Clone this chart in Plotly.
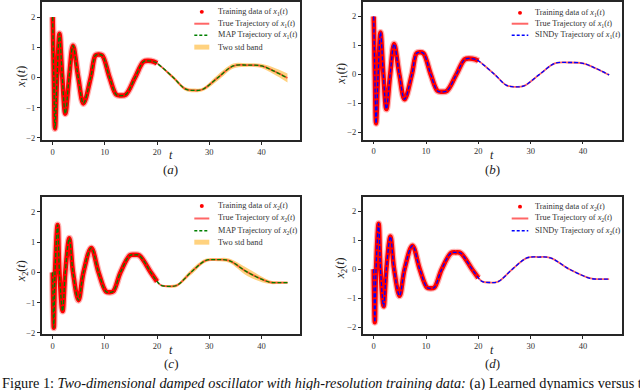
import plotly.graph_objects as go

# values (key points; plotly's spline joins them)
t_x1 = [0.0, 0.22, 0.45, 0.85, 1.3, 1.85, 2.42, 3.15, 3.9, 4.9, 5.9, 7.3, 8.2, 8.8, 9.5,
        10.9, 12.2, 13.0, 14.0, 15.8, 17.4, 18.3, 19.4, 20.0, 23.1, 25.4, 27.0, 28.7,
        31.7, 34.6, 37.2, 40.0, 42.3, 45.0]
x1_true = [2.0, 0.0, -1.69, 0.0, 1.45, 0.0, -1.2, 0.0, 1.05, 0.0, -0.86, 0.0, 0.73, 0.76, 0.73,
           0.0, -0.57, -0.6, -0.57, 0.0, 0.52, 0.55, 0.52, 0.47, 0.0, -0.38, -0.43, -0.40,
           0.0, 0.38, 0.41, 0.38, 0.22, -0.02]

t_x2 = [0.0, 0.22, 0.45, 0.95, 1.3, 1.9, 2.42, 3.2, 3.9, 4.95, 5.9, 7.4, 8.8, 10.2, 10.9,
        11.6, 13.0, 14.8, 15.7, 16.6, 18.8, 20.0, 20.8, 22.2, 23.8, 26.5, 29.3, 31.5, 33.8,
        37.4, 41.5, 43.5, 45.0]
x2_true = [0.0, -1.83, 0.0, 1.57, 0.0, -1.28, 0.0, 1.13, 0.0, -0.92, 0.0, 0.81, 0.0, -0.63, -0.66,
           -0.63, 0.0, 0.56, 0.58, 0.56, 0.0, -0.3, -0.43, -0.46, -0.43, 0.0, 0.39, 0.42, 0.39,
           0.0, -0.32, -0.34, -0.34]

# learned trajectories sit on top of the true ones at this resolution
x1_map, x2_map = x1_true, x2_true
x1_sindy, x2_sindy = x1_true, x2_true

t_train_end = 20.0

# two std half-widths for the points after the training window
x1_band_half = [0.0, 0.06, 0.06, 0.06, 0.06, 0.1, 0.08, 0.06, 0.07, 0.11, 0.15]
x2_band_half = [0.0, 0.02, 0.04, 0.05, 0.09, 0.06, 0.05, 0.07, 0.13, 0.06, 0.04, 0.04]

x_ticks = [0, 10, 20, 30, 40]
y_ticks = [-2, -1, 0, 1, 2]
y_ticktext = ['\u22122', '\u22121', '0', '1', '2']

W, H = 640, 390
FONT = 'Liberation Serif'
RED = '#ff0000'
RED_SOFT = 'rgba(255,0,0,0.6)'
BAND = 'rgba(255,165,0,0.5)'


def px(x):
    return x / W


def py(y):
    return 1 - y / H


def sym(i):
    return '<i>x</i><sub>%d</sub>(<i>t</i>)' % i


fig = go.Figure()


def add_panel(n, t, y, learned, learned_color, band_half=None):
    xa = 'x' if n == 1 else 'x%d' % n
    ya = 'y' if n == 1 else 'y%d' % n

    if band_half is not None:
        bt = [tt for tt in t if tt >= t_train_end]
        bc = [v for tt, v in zip(t, learned) if tt >= t_train_end]
        upper = [c + h for c, h in zip(bc, band_half)]
        lower = [c - h for c, h in zip(bc, band_half)]
        fig.add_trace(go.Scatter(x=bt, y=upper, mode='lines', line=dict(width=0, shape='spline'),
                                 xaxis=xa, yaxis=ya, hoverinfo='skip'))
        fig.add_trace(go.Scatter(x=bt, y=lower, mode='lines', line=dict(width=0, shape='spline'),
                                 fill='tonexty', fillcolor=BAND, xaxis=xa, yaxis=ya,
                                 name='Two std band'))

    tt_train = [tt for tt in t if tt <= t_train_end]
    yy_train = [v for tt, v in zip(t, y) if tt <= t_train_end]
    # the dense training samples read as a thick red band
    fig.add_trace(go.Scatter(x=tt_train, y=yy_train, mode='lines',
                             line=dict(color='rgba(255,0,0,0.3)', width=7, shape='spline'),
                             xaxis=xa, yaxis=ya, hoverinfo='skip'))
    fig.add_trace(go.Scatter(x=tt_train, y=yy_train, mode='lines',
                             line=dict(color=RED, width=4.5, shape='spline'),
                             xaxis=xa, yaxis=ya, name='Training data'))
    fig.add_trace(go.Scatter(x=t, y=y, mode='lines',
                             line=dict(color=RED_SOFT, width=1.8, shape='spline'),
                             xaxis=xa, yaxis=ya, name='True Trajectory'))
    fig.add_trace(go.Scatter(x=t, y=learned, mode='lines',
                             line=dict(color=learned_color, width=1.3, dash='4px,2px', shape='spline'),
                             xaxis=xa, yaxis=ya, name='Learned Trajectory'))


add_panel(1, t_x1, x1_true, x1_map, '#008000', x1_band_half)
add_panel(2, t_x1, x1_true, x1_sindy, '#0000ff')
add_panel(3, t_x2, x2_true, x2_map, '#008000', x2_band_half)
add_panel(4, t_x2, x2_true, x2_sindy, '#0000ff')

# panel boxes in pixels: (left, right, top, bottom), y range
panels = {
    1: (41.7, 300.0, 0.0, 140.0, [-2.08, 2.5]),
    2: (362.7, 621.7, 0.0, 139.3, [-2.25, 2.5]),
    3: (41.7, 300.0, 197.3, 336.7, [-2.05, 2.5]),
    4: (362.7, 621.7, 197.3, 336.7, [-2.25, 2.5]),
}

axis_style = dict(showline=True, mirror=True, linecolor='#262626', linewidth=1.5,
                  ticks='outside', ticklen=3, tickcolor='#262626', tickwidth=0.8,
                  showgrid=False, zeroline=False,
                  tickfont=dict(family=FONT, size=8.5, color='#333333'))

layout = {}
for n, (l, r, top, bot, yr) in panels.items():
    sx = '' if n == 1 else str(n)
    layout['xaxis' + sx] = dict(domain=[px(l), px(r)], range=[-2.1, 47.4], anchor='y' + sx,
                                tickvals=x_ticks, **axis_style)
    layout['yaxis' + sx] = dict(domain=[py(bot), py(top)], range=yr, anchor='x' + sx,
                                tickvals=y_ticks, ticktext=y_ticktext, **axis_style)

ann = []
shapes = []


def label(x, y, text, size, angle=0, anchor='center', color='#222222'):
    ann.append(dict(x=px(x), y=py(y), xref='paper', yref='paper', text=text, showarrow=False,
                    xanchor=anchor, yanchor='middle', textangle=angle,
                    font=dict(family=FONT, size=size, color=color)))


def paper_line(x0, x1, y, color, width, dash='solid'):
    shapes.append(dict(type='line', xref='paper', yref='paper', x0=px(x0), x1=px(x1),
                       y0=py(y), y1=py(y), line=dict(color=color, width=width, dash=dash)))


# compact matplotlib-style legends, one per panel
def legend(sx, tx, rows, idx, learned_name, learned_color, with_band):
    dot_x = (sx[0] + sx[1]) / 2
    shapes.append(dict(type='circle', xref='paper', yref='paper',
                       x0=px(dot_x - 2), x1=px(dot_x + 2), y0=py(rows[0] + 2), y1=py(rows[0] - 2),
                       fillcolor=RED, line=dict(width=0)))
    paper_line(sx[0], sx[1], rows[1], RED_SOFT, 2)
    paper_line(sx[0], sx[1], rows[2], learned_color, 1.3, '3px,2px')
    texts = ['Training data of ' + sym(idx), 'True Trajectory of ' + sym(idx),
             learned_name + ' Trajectory of ' + sym(idx)]
    if with_band:
        shapes.append(dict(type='rect', xref='paper', yref='paper', x0=px(sx[0]), x1=px(sx[1]),
                           y0=py(rows[3] + 2.5), y1=py(rows[3] - 2.5), fillcolor=BAND,
                           line=dict(width=0)))
        texts.append('Two std band')
    for r, txt in zip(rows, texts):
        label(tx, r, txt, 8.3, anchor='left', color='#333333')


legend((194.3, 209.3), 216, [10, 22, 33.7, 45.7], 1, 'MAP', '#008000', True)
legend((511.7, 528.3), 533.3, [11, 22, 33.7], 1, 'SINDy', '#0000ff', False)
legend((194.3, 209.3), 216, [206.7, 219.3, 231.7, 243.3], 2, 'MAP', '#008000', True)
legend((511.7, 528.3), 533.3, [207.3, 219.3, 231.7], 2, 'SINDy', '#0000ff', False)

for i, (xc, yc, ylab, sub, idx) in enumerate([
        (170.8, 76.0, 21.7, '(<i>a</i>)', 1), (492.2, 73.0, 341.7, '(<i>b</i>)', 1),
        (170.8, 273.0, 21.7, '(<i>c</i>)', 2), (492.2, 270.0, 340.7, '(<i>d</i>)', 2)]):
    top_row = i < 2
    label(ylab, yc, sym(idx), 12, -90)
    label(xc, 155 if top_row else 353, '<i>t</i>', 12)
    label(xc, 170 if top_row else 366, sub, 13)

ann.append(dict(x=px(0), y=py(386), xref='paper', yref='paper', showarrow=False,
                xanchor='left', yanchor='middle',
                text='Figure 1: <i>Two-dimensional damped oscillator with high-resolution training data:</i>'
                     ' (a) Learned dynamics versus the true',
                font=dict(family=FONT, size=14.3, color='#111111')))

fig.update_layout(width=W, height=H, margin=dict(l=0, r=0, t=0, b=0),
                  plot_bgcolor='white', paper_bgcolor='white', showlegend=False,
                  font=dict(family=FONT), annotations=ann, shapes=shapes, **layout)

fig.write_html('out.html', config={'displayModeBar': False},
               post_script="document.body.style.margin='0';")
